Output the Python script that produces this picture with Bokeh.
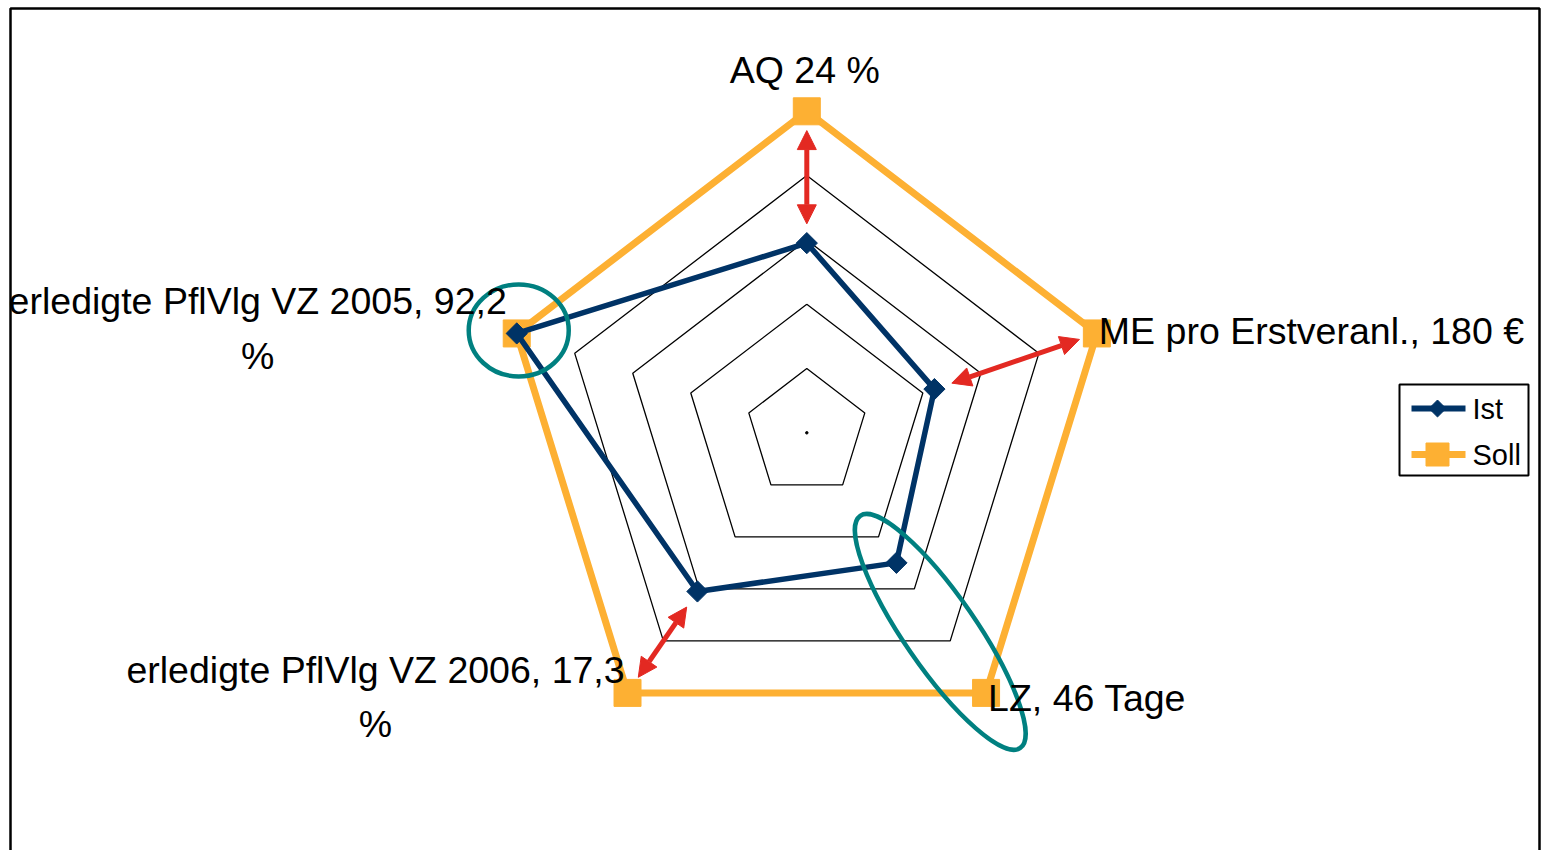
import numpy as np
from bokeh.plotting import figure
from bokeh.models import Range1d, Arrow, NormalHead, ColumnDataSource
from bokeh.core.properties import value
from bokeh.embed import file_html
from bokeh.resources import INLINE

# ---------------- data ----------------
categories = [
    "AQ 24 %",
    "ME pro Erstveranl., 180 €",
    "LZ, 46 Tage",
    "erledigte PflVlg VZ 2006, 17,3\n%",
    "erledigte PflVlg VZ 2005, 92,2\n%",
]
ist = [2.95, 2.2, 2.5, 3.05, 5.0]
soll = [5.0, 5.0, 5.0, 5.0, 5.0]
rings = [1, 2, 3, 4, 5]
series_names = ["Ist", "Soll"]
arrow_categories = [0, 1, 3]      # gaps marked with red arrows
circle_category = 4               # circled point
ellipse_category = 2              # ellipse between Ist and Soll

# ---------------- layout ----------------
W, H = 1543, 850
CX, CY = 806.3, 417.7
SX, SY = 61.0, 64.3
FONT = value("Liberation Sans")
IST_COLOR = "#003366"
SOLL_COLOR = "#FDB033"
RED = "#E32922"
TEAL = "#008080"

n = len(categories)
ang = [np.deg2rad(90 - 72 * i) for i in range(n)]


def pos(i, r):
    return CX + r * SX * np.cos(ang[i]), CY + r * SY * np.sin(ang[i])


p = figure(width=W, height=H, output_backend="svg", toolbar_location=None,
           x_range=Range1d(0, W), y_range=Range1d(0, H), min_border=0)
p.axis.visible = False
p.grid.visible = False
p.outline_line_color = None
p.background_fill_color = "white"
p.border_fill_color = "white"

# chart frame (bottom edge lies beyond the window)
p.line([10, 10, 1539, 1539], [-10, 842, 842, -10], line_color="black", line_width=2.5)

# grid rings
xs, ys = [], []
for r in rings:
    pts = [pos(i, r) for i in range(n)] + [pos(0, r)]
    xs.append([q[0] for q in pts])
    ys.append([q[1] for q in pts])
p.multi_line(xs, ys, line_color="black", line_width=1.3)
p.scatter([CX], [CY], size=2.5, color="black")

# Soll series
sp = [pos(i, soll[i]) for i in range(n)]
p.line([q[0] for q in sp] + [sp[0][0]], [q[1] for q in sp] + [sp[0][1]],
       line_color=SOLL_COLOR, line_width=7)
p.scatter([q[0] for q in sp], [q[1] for q in sp], marker="square", size=27,
          fill_color=SOLL_COLOR, line_color=SOLL_COLOR)

# Ist series
ip = [pos(i, ist[i]) for i in range(n)]
p.line([q[0] for q in ip] + [ip[0][0]], [q[1] for q in ip] + [ip[0][1]],
       line_color=IST_COLOR, line_width=5.5)
p.scatter([q[0] for q in ip], [q[1] for q in ip], marker="square", angle=np.pi / 4,
          size=15, fill_color=IST_COLOR, line_color=IST_COLOR)

# red double arrows between Ist and Soll
a_src = ColumnDataSource(dict(
    x0=[pos(i, ist[i] + 0.3)[0] for i in arrow_categories],
    y0=[pos(i, ist[i] + 0.3)[1] for i in arrow_categories],
    x1=[pos(i, soll[i] - 0.3)[0] for i in arrow_categories],
    y1=[pos(i, soll[i] - 0.3)[1] for i in arrow_categories],
))
p.add_layout(Arrow(source=a_src, x_start="x0", y_start="y0", x_end="x1", y_end="y1",
                   line_color=RED, line_width=5,
                   start=NormalHead(size=19, fill_color=RED, line_color=RED, line_width=1),
                   end=NormalHead(size=19, fill_color=RED, line_color=RED, line_width=1)))

# teal circle and ellipse
c = pos(circle_category, soll[circle_category])
p.ellipse(x=[c[0] + 2], y=[c[1] + 3], width=100, height=92, fill_color=None,
          line_color=TEAL, line_width=4.5)
e0 = pos(ellipse_category, ist[ellipse_category])
e1 = pos(ellipse_category, soll[ellipse_category])
e_ang = np.arctan2(e1[1] - e0[1], e1[0] - e0[0])
p.ellipse(x=[(e0[0] + e1[0]) / 2 - 1], y=[(e0[1] + e1[1]) / 2 - 4], width=282, height=72,
          angle=e_ang, fill_color=None, line_color=TEAL, line_width=4.5)

# category labels
label_off = [(-2, 41, "center"), (2, 2, "left"), (2, -5, "left"),
             (-252, -4, "center"), (-259, 5, "center")]
for i, lab in enumerate(categories):
    vx, vy = pos(i, soll[i])
    dx, dy, al = label_off[i]
    p.text([vx + dx], [vy + dy], text=[lab], text_font=FONT, text_font_size="37.5px",
           text_align=al, text_baseline="middle", text_color="black",
           text_line_height=1.3)

# legend (drawn manually)
LX0, LX1, LY0, LY1 = 1399, 1528, 375, 466
p.quad(left=[LX0], right=[LX1], bottom=[LY0], top=[LY1], fill_color="white",
       line_color="black", line_width=2)
rows_y = [442, 396]
p.line([1411, 1465], [rows_y[0]] * 2, line_color=IST_COLOR, line_width=6)
p.scatter([1437], [rows_y[0]], marker="square", angle=np.pi / 4, size=12,
          fill_color=IST_COLOR, line_color=IST_COLOR)
p.line([1411, 1465], [rows_y[1]] * 2, line_color=SOLL_COLOR, line_width=7)
p.scatter([1437], [rows_y[1]], marker="square", size=23,
          fill_color=SOLL_COLOR, line_color=SOLL_COLOR)
p.text([1472, 1472], rows_y, text=series_names, text_font=FONT, text_font_size="29px",
       text_align="left", text_baseline="middle", text_color="black")

open("out.html", "w").write(file_html(p, INLINE))
